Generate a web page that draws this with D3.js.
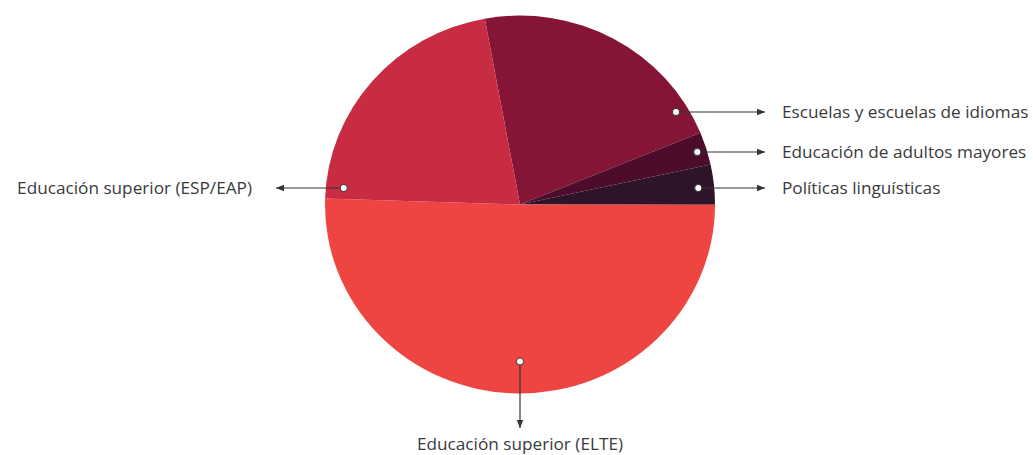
<!DOCTYPE html>
<html>
<head>
<meta charset="utf-8">
<script src="https://cdn.jsdelivr.net/npm/d3@7"></script>
<style>
  body { margin: 0; background: #fff; }
  text { font-family: "Open Sans", sans-serif; fill: #3a3a3a; }
</style>
</head>
<body>
<div id="vis-container"></div>
<script>
//data: share of each slice (%), clockwise from the top
let categories = ["Escuelas y escuelas de idiomas", "Educación de adultos mayores", "Políticas linguísticas", "Educación superior (ELTE)", "Educación superior (ESP/EAP)"];
let values = [21.7, 2.8, 3.4, 50.5, 21.6];
let colors = ["#841537", "#4e0c2d", "#2d1428", "#ef4542", "#c82c42"];

let width = 1033, height = 455;
let cx = 520, cy = 204.5;
let radius = 195;
let squash = 0.969; //the original pie is a little flattened

let svg = d3.select("#vis-container")
  .append("svg")
  .attr("width", width)
  .attr("height", height);

let defs = svg.append("defs");
defs.append("marker")
  .attr("id", "arrow")
  .attr("viewBox", "0 0 10 10")
  .attr("refX", 10).attr("refY", 5)
  .attr("markerWidth", 7).attr("markerHeight", 7)
  .attr("orient", "auto")
  .append("path")
  .attr("d", "M0,1 L10,5 L0,9 Z")
  .attr("fill", "#333");

//pie group
let g = svg.append("g")
  .attr("transform", `translate(${cx},${cy}) scale(1,${squash})`);

let startA = -10.4 * Math.PI / 180;
let pie = d3.pie().sort(null).startAngle(startA).endAngle(startA + 2 * Math.PI);
let arc = d3.arc().innerRadius(0).outerRadius(radius);

let arcs = pie(values);

g.selectAll("path.slice")
  .data(arcs)
  .enter()
  .append("path")
  .attr("class", "slice")
  .attr("d", arc)
  .attr("fill", (d, i) => colors[i]);

//callouts: point inside slice -> arrow -> label
//side: where the label sits; at: y of the row (or x for bottom)
let callouts = [
  {i: 0, side: "right", at: 112, inset: 14},
  {i: 1, side: "right", at: 152, inset: 10},
  {i: 2, side: "right", at: 188, inset: 16},
  {i: 4, side: "left",  at: 188, inset: 18},
  {i: 3, side: "bottom", at: cx, inset: 32}
];

let edgeX = y => {
  let dy = (y - cy) / squash;
  return Math.sqrt(radius * radius - dy * dy);
};

let gc = svg.append("g");

callouts.forEach(c => {
  let px, py, tx, ty, lx, ly, anchor;
  if (c.side === "right") {
    py = c.at; px = cx + edgeX(c.at) - c.inset;
    tx = 765; ty = py;
    lx = 782; ly = py + 6; anchor = "start";
  } else if (c.side === "left") {
    py = c.at; px = cx - edgeX(c.at) + c.inset;
    tx = 276; ty = py;
    lx = 252; ly = py + 6; anchor = "end";
  } else {
    px = c.at; py = cy + radius * squash - c.inset;
    tx = px; ty = 428;
    lx = px; ly = 450; anchor = "middle";
  }
  gc.append("line")
    .attr("x1", px).attr("y1", py)
    .attr("x2", tx).attr("y2", ty)
    .attr("stroke", "#333")
    .attr("stroke-width", 1.2)
    .attr("marker-end", "url(#arrow)");
  gc.append("circle")
    .attr("cx", px).attr("cy", py)
    .attr("r", 3.6)
    .attr("fill", "#fff")
    .attr("stroke", "#333")
    .attr("stroke-width", 1);
  gc.append("text")
    .attr("x", lx).attr("y", ly)
    .attr("text-anchor", anchor)
    .attr("font-size", "17.2px")
    .text(categories[c.i]);
});
</script>
</body>
</html>
